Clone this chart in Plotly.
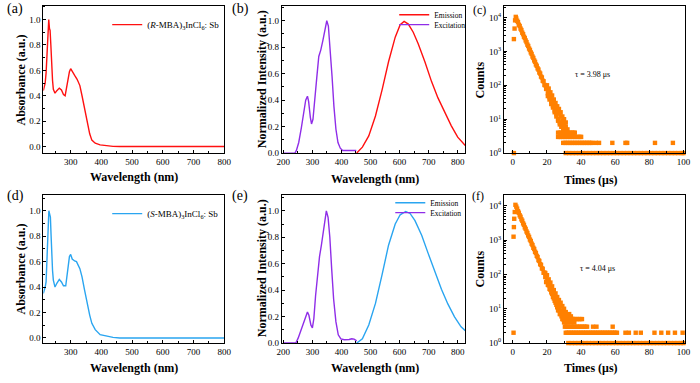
import plotly.graph_objects as go

# ---------------- DATA ----------------
# (a) absorbance (R-MBA)3InCl6:Sb
abs_R_wl = [211, 214, 217, 220, 223, 226, 228.7, 231, 233, 235.5, 238, 241, 243.6, 249, 255, 263, 270, 276.6, 282,
            289, 296, 300, 305, 313, 321, 330, 337, 345, 353, 362, 369, 380, 396, 417, 438, 460, 500, 600, 700, 800]
abs_R_val = [0.44, 0.47, 0.50, 0.58, 0.78, 0.95, 1.0, 0.93, 0.915, 0.80, 0.63, 0.52, 0.45, 0.42, 0.44, 0.46, 0.445, 0.41, 0.40,
             0.50, 0.59, 0.613, 0.59, 0.56, 0.53, 0.48, 0.40, 0.30, 0.19, 0.10, 0.05, 0.026, 0.013, 0.005, 0.001, 0.0, 0.0, 0.0, 0.0, 0.0]

# (d) absorbance (S-MBA)3InCl6:Sb
abs_S_wl = [211, 214, 217, 220, 223, 226, 229, 232, 234, 236, 238, 241, 243.6, 249, 255, 263, 270, 276.6, 284,
            289, 296, 300, 305, 313, 319, 330, 337, 345, 353, 362, 369, 380, 396, 417, 438, 460, 500, 600, 700, 800]
abs_S_val = [0.35, 0.37, 0.40, 0.44, 0.66, 0.90, 1.0, 0.97, 0.95, 0.82, 0.66, 0.53, 0.455, 0.40, 0.43, 0.46, 0.44, 0.41, 0.41,
             0.51, 0.64, 0.657, 0.62, 0.605, 0.60, 0.545, 0.48, 0.38, 0.27, 0.18, 0.115, 0.065, 0.026, 0.013, 0.005, 0.0, 0.0, 0.0, 0.0, 0.0]

# (b) PL / PLE of R
exc_R_wl = [200, 240, 245, 253, 262, 270, 277, 283, 287, 293, 297, 302, 309, 315.5, 322, 329, 336, 343, 349.5, 355,
            361, 367.6, 374, 381, 388, 396, 404, 421, 438, 451]
exc_R_val = [0.0, 0.0, 0.02, 0.08, 0.19, 0.305, 0.40, 0.43, 0.39, 0.27, 0.22, 0.255, 0.40, 0.58, 0.73, 0.78, 0.85, 0.94, 1.0, 0.96,
             0.80, 0.58, 0.355, 0.18, 0.08, 0.037, 0.02, 0.02, 0.025, 0.02]
em_R_wl = [452.5, 472, 494, 517, 540, 562, 585, 602, 615.6, 630, 647, 664, 687, 710, 732, 755, 778, 800, 817, 826]
em_R_val = [0.0, 0.045, 0.13, 0.28, 0.48, 0.69, 0.876, 0.97, 0.995, 0.975, 0.913, 0.826, 0.69, 0.54, 0.417, 0.305, 0.206, 0.12, 0.077, 0.057]

# (e) PL / PLE of S
exc_S_wl = [200, 243, 251, 262, 274, 283, 288, 295, 300, 305, 311, 318, 324.6, 331, 338, 344, 348, 354, 360, 366.5,
            373, 381, 389, 398, 409.5, 426.5, 435.5, 443.5, 452.5]
exc_S_val = [0.0, 0.0, 0.037, 0.11, 0.185, 0.235, 0.21, 0.135, 0.115, 0.185, 0.36, 0.53, 0.655, 0.74, 0.85, 0.96, 1.0, 0.95, 0.80, 0.555,
             0.333, 0.16, 0.062, 0.032, 0.025, 0.027, 0.032, 0.03, 0.017]
em_S_wl = [452.5, 472, 494, 517, 540, 562, 585, 602, 621, 636, 653, 676, 698, 721, 744, 766, 789, 811.5, 826]
em_S_val = [0.0, 0.032, 0.136, 0.30, 0.52, 0.74, 0.90, 0.97, 0.995, 0.98, 0.926, 0.815, 0.68, 0.543, 0.407, 0.296, 0.198, 0.123, 0.094]

# (c) decay of R
dec_R_t = [0.6, 1.0, 1.3, 1.7, 2.0, 2.5, 3.0, 3.5, 4.0, 4.5, 5.0, 5.5, 6.0, 6.5, 7.0, 7.5, 8.0, 8.5, 9.0, 9.5, 10.0,
           10.5, 11.0, 11.5, 12.0, 12.5, 13.0, 13.5, 14.0, 14.5, 15.0, 15.5, 16.0, 16.5, 17.0, 17.5, 18.0, 18.5, 19.0,
           19.5, 20.0, 20.5, 21.0, 21.5, 22.0, 22.5, 23.0, 23.5, 24.0, 24.5, 25.0, 25.5, 26.0, 26.5, 27.0, 27.5, 28.0,
           28.5, 29.0, 29.5, 30.0, 30.5, 31.0, 32.0,
           20.0, 20.5, 21.0, 21.5, 22.0, 22.5, 23.0, 23.5, 24.0, 24.5, 25.0, 25.5, 26.0, 26.5, 27.0, 27.5, 28.0, 28.5,
           29.0, 29.5, 30.0, 30.5, 31.0]
dec_R_counts = [2300, 4700, 8200, 10400, 9300, 8000, 7300, 6100, 5600, 4700, 4250, 3550, 3200, 2700, 2480, 2100, 1870, 1580,
                1440, 1210, 1100, 930, 840, 705, 640, 540, 490, 410, 375, 315, 290, 238, 222, 180, 170, 136, 131, 102, 100,
                78, 80, 58, 62, 44, 48, 33, 38, 25, 30, 18, 24, 14, 19, 10, 15, 8, 12, 6, 9, 5, 7, 5, 6, 5,
                100, 48, 80, 38, 62, 28, 50, 22, 38, 16, 30, 12, 24, 9, 20, 7, 16, 6, 12, 8, 10, 6, 8]
R_row4_t = [26.5, 27.5, 28.5, 29.5, 30.5, 31.5, 32.5, 33.5, 34.5, 35.5, 36.3]
R_row3_t = [26.5, 27.5, 28.5, 29.5, 30.5, 31.5, 32.5, 33.5, 34.5, 35.5, 36.5, 37.5, 38.5, 39.5, 40.0]
R_row2_t = [29.5, 30.5, 31.5, 32.5, 33.5, 34.5, 35.5, 36.5, 37.5, 38.5, 39.5, 40.5, 41.5, 42.5, 43.5, 44.5, 45.5,
            46.5, 48.6, 50.5, 58.3, 66.0, 67.0, 83.3, 93.8]
R_row1_t = [0.6, 31, 33, 35, 37, 39, 41, 43, 45, 47, 49, 51, 53, 55, 57, 59, 61, 63, 65, 67, 69, 71, 73, 75, 77, 79,
            81, 83, 85, 87, 89, 91, 93, 95, 97, 99, 100]

# (f) decay of S
dec_S_t = [0.4, 0.6, 0.8, 1.1, 1.5, 2.0, 2.5, 3.0, 3.5, 4.0, 4.5, 5.0, 5.5, 6.0, 6.5, 7.0, 7.5, 8.0, 8.5, 9.0, 9.5, 10.0,
           10.5, 11.0, 11.5, 12.0, 12.5, 13.0, 13.5, 14.0, 14.5, 15.0, 15.5, 16.0, 16.5, 17.0, 17.5, 18.0, 18.5, 19.0,
           19.5, 20.0, 20.5, 21.0, 21.5, 22.0, 22.5, 23.0, 23.5, 24.0, 24.5, 25.0, 25.5, 26.0, 26.5, 27.0, 27.5, 28.0,
           28.5, 29.0, 29.5, 30.0, 30.5, 31.0, 31.5, 32.0, 33.0, 34.0, 35.0, 36.0,
           19.0, 19.5, 20.0, 20.5, 21.0, 21.5, 22.0, 22.5, 23.0, 23.5, 24.0, 24.5, 25.0, 25.5, 26.0, 26.5, 27.0, 27.5,
           28.0, 28.5, 29.0, 29.5, 30.0, 30.5, 31.0, 32.0, 33.0, 34.0, 35.0]
dec_S_counts = [1260, 2400, 4200, 6600, 10700, 9500, 8300, 7000, 6300, 5300, 4800, 4050, 3680, 3080, 2790, 2350, 2130, 1790,
                1620, 1370, 1240, 1040, 945, 790, 720, 600, 552, 458, 422, 348, 322, 262, 247, 199, 190, 150, 146, 112, 113,
                84, 88, 63, 68, 48, 52, 36, 40, 27, 31, 20, 24, 15, 19, 11, 14, 9, 12, 7, 9, 5, 8, 4, 6, 4, 5, 4, 5, 4, 5, 4,
                110, 60, 95, 50, 72, 38, 58, 30, 45, 22, 35, 17, 28, 13, 22, 9, 18, 7, 15, 6, 12, 5, 10, 7, 8, 6, 7, 6, 5]
S_row5_t = [29.5, 30.5, 31.5, 32.5, 33.5, 34.5, 35.5, 36.5, 37.5, 38.5, 39.5, 40.5]
S_row3_t = [30.5, 31.5, 32.5, 33.5, 34.5, 35.5, 36.5, 37.5, 38.5, 39.5, 40.5, 41.5, 42.5, 43.5, 47.0, 49.0, 58.5]
S_row2_t = [0.4, 31, 32, 33, 34, 35, 36, 37, 38, 39, 40, 41, 42, 43, 44, 45, 46, 47, 48, 49, 50, 51, 52, 53, 54, 55,
            56, 57, 58, 59, 60, 61, 66, 68, 72, 75, 83, 87, 91, 95, 99.5]
S_row1_t = [32.5, 34.5, 36.5, 38.5, 40.5, 42.5, 44.5, 46.5, 48.5, 50.5, 52.5, 54.5, 56.5, 58.5, 60.5, 62.5, 64.5,
            66.5, 68.5, 70.5, 72.5, 74.5, 76.5, 78.5, 80.5, 82.5, 84.5, 86.5, 88.5, 90.5, 92.5, 94.5, 96.5, 98.5, 100]

log_tickvals = [1, 10, 100, 1000, 10000]
log_ticktext = ["10<sup>0</sup>", "10<sup>1</sup>", "10<sup>2</sup>", "10<sup>3</sup>", "10<sup>4</sup>"]

# ---------------- STYLE ----------------
FONT = "Liberation Serif"
RED = "#FF1010"
PURPLE = "#8F2DE8"
BLUE = "#2AA5F0"
ORANGE = "#FF8000"
W, H = 700, 383

def px_x(a, b):
    return [a / W, b / W]

def px_y(top, bottom):
    return [1 - bottom / H, 1 - top / H]

fig = go.Figure()

def line(x, y, color, xa, ya, name=None, legend=None):
    fig.add_trace(go.Scatter(x=x, y=y, mode="lines", line=dict(color=color, width=1.4),
                             xaxis=xa, yaxis=ya, name=name or "", showlegend=legend is not None,
                             legend=legend or "legend", hoverinfo="skip"))

def dots(x, y, xa, ya):
    fig.add_trace(go.Scatter(x=x, y=y, mode="markers",
                             marker=dict(symbol="square", size=4.4, color=ORANGE, line=dict(width=0)),
                             xaxis=xa, yaxis=ya, showlegend=False, cliponaxis=False, hoverinfo="skip"))

# (a)
line(abs_R_wl, abs_R_val, RED, "x", "y", "(<i>R</i>-MBA)<sub>3</sub>InCl<sub>6</sub>: Sb", "legend")
# (b)
line(em_R_wl, em_R_val, RED, "x2", "y2", "Emission", "legend2")
line(exc_R_wl, exc_R_val, PURPLE, "x2", "y2", "Excitation", "legend3")
# (c)
dots(dec_R_t, dec_R_counts, "x3", "y3")
dots(R_row4_t, [4] * len(R_row4_t), "x3", "y3")
dots(R_row3_t, [3] * len(R_row3_t), "x3", "y3")
dots(R_row2_t, [2] * len(R_row2_t), "x3", "y3")
dots(R_row1_t, [1] * len(R_row1_t), "x3", "y3")
# (d)
line(abs_S_wl, abs_S_val, BLUE, "x4", "y4", "(<i>S</i>-MBA)<sub>3</sub>InCl<sub>6</sub>: Sb", "legend4")
# (e)
line(em_S_wl, em_S_val, BLUE, "x5", "y5", "Emission", "legend5")
line(exc_S_wl, exc_S_val, PURPLE, "x5", "y5", "Excitation", "legend6")
# (f)
dots(dec_S_t, dec_S_counts, "x6", "y6")
dots(S_row5_t, [5] * len(S_row5_t), "x6", "y6")
dots(S_row3_t, [3] * len(S_row3_t), "x6", "y6")
dots(S_row2_t, [2] * len(S_row2_t), "x6", "y6")
dots(S_row1_t, [1] * len(S_row1_t), "x6", "y6")

tickfont = dict(family=FONT, size=9, color="black")
base = dict(showline=True, linecolor="black", linewidth=1, mirror=True, ticks="inside", ticklen=3,
            tickwidth=1, tickcolor="black", showgrid=False, zeroline=False, tickfont=tickfont)

cols = [px_x(39, 223), px_x(281.7, 468.3), px_x(507.7, 691.7)]
top_row = px_y(5, 154.5)
bot_row = px_y(197.3, 347.5)

wl_x = dict(base, dtick=100, tick0=0, minor=dict(ticks="inside", ticklen=2, dtick=50, tickcolor="black"))
lin_y = dict(base, dtick=0.2, tick0=0, tickformat=".1f", minor=dict(ticks="inside", ticklen=2, dtick=0.1, tickcolor="black"))
t_x = dict(base, dtick=20, tick0=0, minor=dict(ticks="inside", ticklen=2, dtick=10, tickcolor="black"))
log_y = dict(base, type="log", tickvals=log_tickvals, ticktext=log_ticktext,
             minor=dict(ticks="inside", ticklen=2, tickcolor="black", dtick="D1"))

fig.update_layout(
    xaxis=dict(wl_x, domain=cols[0], anchor="y", range=[211, 800]),
    yaxis=dict(lin_y, domain=top_row, anchor="x", range=[-0.052, 1.108]),
    xaxis2=dict(wl_x, domain=cols[1], anchor="y2", range=[195, 826]),
    yaxis2=dict(lin_y, domain=top_row, anchor="x2", range=[0, 1.112]),
    xaxis3=dict(t_x, domain=cols[2], anchor="y3", range=[-5.2, 100.8]),
    yaxis3=dict(log_y, domain=top_row, anchor="x3", range=[0, 4.34]),
    xaxis4=dict(wl_x, domain=cols[0], anchor="y4", range=[211, 800]),
    yaxis4=dict(lin_y, domain=bot_row, anchor="x4", range=[-0.04, 1.122]),
    xaxis5=dict(wl_x, domain=cols[1], anchor="y5", range=[195, 826]),
    yaxis5=dict(lin_y, domain=bot_row, anchor="x5", range=[0, 1.118]),
    xaxis6=dict(t_x, domain=cols[2], anchor="y6", range=[-5.2, 100.8]),
    yaxis6=dict(log_y, domain=bot_row, anchor="x6", range=[0, 4.31]),
)

def leg(xp, yp, size):
    return dict(x=xp / W, y=1 - yp / H, xanchor="left", yanchor="middle", bgcolor="rgba(0,0,0,0)",
                borderwidth=0, font=dict(family=FONT, size=size, color="black"), itemwidth=30,
                tracegroupgap=0, itemclick=False, itemdoubleclick=False)

fig.update_layout(
    legend=leg(104, 24, 9),
    legend2=leg(396, 14, 7.5),
    legend3=leg(396, 24, 7.5),
    legend4=leg(104, 216, 9),
    legend5=leg(392, 205, 7.5),
    legend6=leg(392, 215, 7.5),
)

ann = []
def text(x, y, s, size, angle=0, xanchor="center"):
    ann.append(dict(x=x / W, y=1 - y / H, xref="paper", yref="paper", text=s, showarrow=False,
                    textangle=angle, xanchor=xanchor, yanchor="middle",
                    font=dict(family=FONT, size=size, color="black")))

# panel labels
text(0, 8, "(a)", 14, xanchor="left")
text(229, 8, "(b)", 14, xanchor="left")
text(474, 9, "(c)", 12, xanchor="left")
text(0, 198, "(d)", 14, xanchor="left")
text(229, 198, "(e)", 14, xanchor="left")
text(473, 198, "(f)", 12, xanchor="left")
# axis titles
for yc in (80, 272):
    text(16, yc, "<b>Absorbance (a.u.)</b>", 12, angle=-90)
    text(261, yc, "<b>Normalized Intensity (a.u.)</b>", 12, angle=-90)
    text(483, yc, "<b>Counts</b>", 12, angle=-90)
text(131, 179, "<b>Wavelength (nm)</b>", 12)
text(376, 181, "<b>Wavelength (nm)</b>", 12)
text(596, 182, "<b>Times (μs)</b>", 12)
text(131, 373, "<b>Wavelength (nm)</b>", 12)
text(376, 373, "<b>Wavelength (nm)</b>", 12)
text(596, 373, "<b>Times (μs)</b>", 12)
# lifetimes
text(598, 75, "τ = 3.98 μs", 8)
text(603, 272, "τ = 4.04 μs", 8)

fig.update_layout(annotations=ann, width=W, height=H, autosize=False,
                  margin=dict(l=0, r=0, t=0, b=0), paper_bgcolor="white", plot_bgcolor="white",
                  font=dict(family=FONT, color="black"))

fig.write_html("out.html", config={"displayModeBar": False, "staticPlot": True},
               post_script="document.body.style.margin='0';document.body.style.overflow='hidden';")
